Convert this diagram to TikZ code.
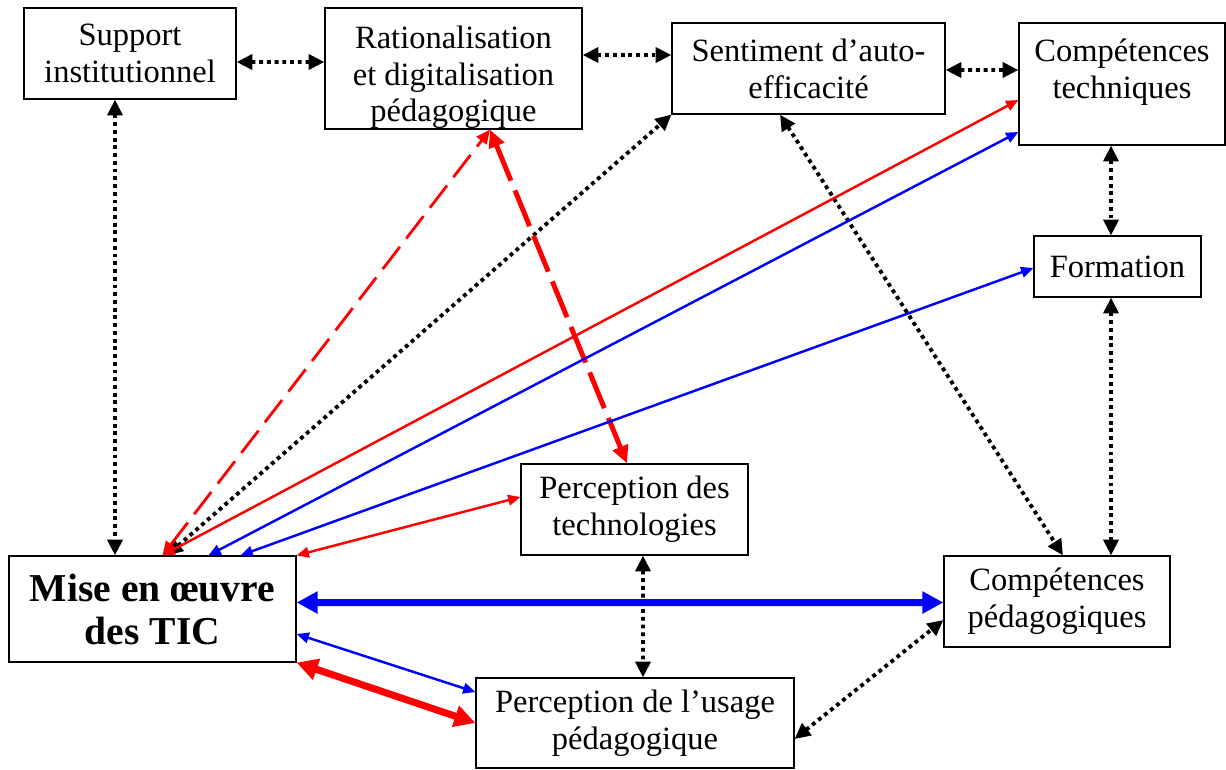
\documentclass[tikz,border=0pt]{standalone}
\usepackage{fontspec}
\setmainfont{Liberation Serif}
\usepackage{xcolor}
\usepackage{tikz}
\usetikzlibrary{
  arrows.meta,
  calc
}
\tikzset{
  concept/.style={rectangle,draw,line width=0.7pt,align=center,inner sep=2pt,font=\fontsize{18.5}{21}\selectfont},
  mainconcept/.style={concept,font=\fontsize{22.5}{24.5}\selectfont\bfseries},
  inlabel/.style={align=center,inner sep=0pt,font=\fontsize{18.5}{21}\selectfont},
  linkdot/.style={{Triangle[length=9pt,width=8.5pt]}-{Triangle[length=9pt,width=8.5pt]},line width=2.2pt,dash pattern=on 2.2pt off 2.2pt},
  linkthin/.style={{Triangle[length=7pt,width=6pt]}-{Triangle[length=7pt,width=6pt]},line width=1.4pt},
  linkthick/.style={{Triangle[length=12pt,width=12pt]}-{Triangle[length=12pt,width=12pt]},line width=4pt},
  linkdash/.style={{Triangle[length=8pt,width=7pt]}-{Triangle[length=8pt,width=7pt]},red,line width=1.6pt,dash pattern=on 16pt off 6pt},
  linkdashthick/.style={{Triangle[length=10pt,width=9pt]}-{Triangle[length=10pt,width=9pt]},red,line width=2.8pt,dash pattern=on 22pt off 6pt}
}

\begin{document}
\begin{tikzpicture}[x=0.02cm,y=-0.02cm]
    \useasboundingbox (0,0) rectangle (1226,769);

    % concepts
    \node[concept,minimum width=4.24cm,minimum height=1.82cm] (support) at (130,53.5) {Support\\institutionnel};
    \node[concept,minimum width=5.14cm,minimum height=2.42cm,
          label={[inlabel,yshift=-5pt]center:{Rationalisation\\et digitalisation\\pédagogique}}] (ratio) at (453.5,68.5) {};
    \node[concept,minimum width=5.46cm,minimum height=1.82cm] (sentiment) at (808.5,68.5) {Sentiment d’auto-\\efficacité};
    \node[concept,minimum width=4.12cm,minimum height=2.44cm,
          label={[inlabel,yshift=7pt]center:{Compétences\\techniques}}] (comptech) at (1122,84) {};
    \node[concept,minimum width=3.34cm,minimum height=1.22cm] (formation) at (1117.5,266.5) {Formation};
    \node[concept,minimum width=4.54cm,minimum height=1.82cm] (perctech) at (634.5,509.5) {Perception des\\technologies};
    \node[concept,minimum width=6.36cm,minimum height=1.8cm] (percusage) at (635,723) {Perception de l’usage\\pédagogique};
    \node[concept,minimum width=4.52cm,minimum height=1.82cm] (comppeda) at (1057,601.5) {Compétences\\pédagogiques};
    \node[mainconcept,minimum width=5.74cm,minimum height=2.12cm] (mise) at (152.5,609) {Mise en œuvre\\des TIC};

    % dotted links
    \draw[linkdot] ($(support.east)+(0,8.5)$) -- ($(ratio.west)+(0,-6.5)$);
    \draw[linkdot] ($(ratio.east)+(0,-13.5)$) -- ($(sentiment.west)+(0,-13.5)$);
    \draw[linkdot] ($(sentiment.east)+(0,1.5)$) -- ($(comptech.west)+(0,-14)$);
    \draw[linkdot] ($(support.south)+(-15,0)$) -- ($(mise.north)+(-37.5,0)$);
    \draw[linkdot] ($(mise.north)+(14.5,0)$) -- (sentiment.south west);
    \draw[linkdot] ($(sentiment.south)+(-28.5,0)$) -- ($(comppeda.north)+(6,0)$);
    \draw[linkdot] ($(comptech.south)+(-11,0)$) -- ($(formation.north)+(-6.5,0)$);
    \draw[linkdot] ($(formation.south)+(-6.5,0)$) -- ($(comppeda.north)+(54,0)$);
    \draw[linkdot] ($(perctech.south)+(8.5,0)$) -- ($(percusage.north)+(8,0)$);
    \draw[linkdot] ($(percusage.east)+(0,16)$) -- ($(comppeda.west)+(0,18.5)$);

    % dashed links
    \draw[linkdash] ($(mise.north)+(10,0)$) -- ($(ratio.south)+(36.5,0)$);
    \draw[linkdashthick] ($(ratio.south)+(36.5,0)$) -- ($(perctech.north)+(-7.5,0)$);

    % solid links
    \draw[linkthin,red] ($(mise.north)+(10,0)$) -- ($(comptech.west)+(0,16)$);
    \draw[linkthin,blue] ($(mise.north)+(56,0)$) -- ($(comptech.west)+(0,48)$);
    \draw[linkthin,blue] ($(mise.north)+(88,0)$) -- ($(formation.west)+(0,1.5)$);
    \draw[linkthin,red] (mise.north east) -- ($(perctech.west)+(0,-12.5)$);
    \draw[linkthin,blue] ($(mise.east)+(0,25)$) -- ($(percusage.west)+(0,-31)$);
    \draw[linkthick,blue] ($(mise.east)+(0,-6.5)$) -- ($(comppeda.west)+(0,1)$);
    \draw[linkthick,red] (mise.south east) -- (percusage.west);
\end{tikzpicture}
\end{document}
